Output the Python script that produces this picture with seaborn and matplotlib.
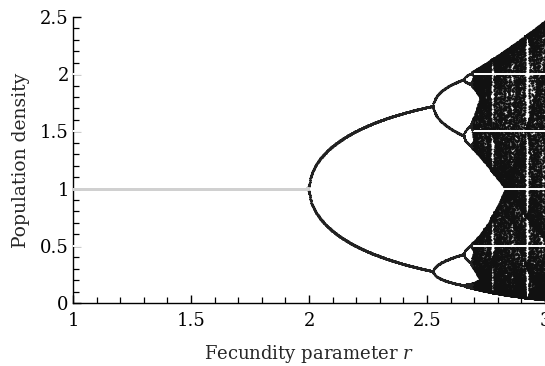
import numpy as np
import pandas as pd
import matplotlib
matplotlib.use("Agg")
import matplotlib.pyplot as plt
import seaborn as sns

# Ricker map  N[t+1] = N[t] * exp(r * (1 - N[t]))
r_range = [1.0, 3.0]
r_first_split = 2.0     # fixed point loses stability
r_chaos = 2.692         # end of the period-doubling cascade
n_r = 1300
n_transient = 600
n_keep = 130
x_ticks = [1, 1.5, 2, 2.5, 3]
x_tick_labels = ["1", "1.5", "2", "2.5", "3"]
y_ticks = [0, 0.5, 1, 1.5, 2, 2.5]
y_tick_labels = ["0", "0.5", "1", "1.5", "2", "2.5"]
grid_levels = [0.5, 1.0, 1.5, 2.0]

r_vals = np.linspace(r_range[0], r_range[1], n_r)
n = np.full(n_r, 0.5)
for _ in range(n_transient):
    n = n * np.exp(r_vals * (1.0 - n))
rows_r, rows_n = [], []
for _ in range(n_keep):
    n = n * np.exp(r_vals * (1.0 - n))
    rows_r.append(r_vals.copy())
    rows_n.append(n.copy())
df = pd.DataFrame({"r": np.concatenate(rows_r), "N": np.concatenate(rows_n)})
stable = df[df["r"] < r_first_split - 0.005]
periodic = df[(df["r"] >= r_first_split - 0.005) & (df["r"] < r_chaos)]
chaotic = df[df["r"] >= r_chaos]

sns.set_style("ticks")
plt.rcParams["font.family"] = ["DejaVu Serif"]
plt.rcParams["mathtext.fontset"] = "custom"
plt.rcParams["mathtext.it"] = "DejaVu Serif:italic"
plt.rcParams["mathtext.rm"] = "DejaVu Serif"

fig = plt.figure(figsize=(5.45, 3.66), dpi=100)
ax = fig.add_axes([0.134, 0.172, 0.866, 0.782])

sns.scatterplot(data=chaotic, x="r", y="N", s=2.2, color="#111111",
                linewidth=0, edgecolor=None, ax=ax, zorder=2, rasterized=True)
for lvl in grid_levels:
    ax.axhline(lvl, color="white", lw=1.4, zorder=3)
sns.scatterplot(data=periodic, x="r", y="N", s=1.3, color="#222222",
                linewidth=0, edgecolor=None, ax=ax, zorder=4)
sns.scatterplot(data=stable, x="r", y="N", s=1.8, color="#d0d0d0",
                linewidth=0, edgecolor=None, ax=ax, zorder=4)

ax.set_xlim(1, 3)
ax.set_ylim(0, 2.5)
ax.set_xticks(x_ticks)
ax.set_xticklabels(x_tick_labels)
ax.set_yticks(y_ticks)
ax.set_yticklabels(y_tick_labels)
ax.set_xticks(np.arange(1, 3.001, 0.1), minor=True)
ax.set_yticks(np.arange(0, 2.501, 0.1), minor=True)
ax.tick_params(which="major", direction="in", length=6, width=1, labelsize=13,
               color="black", labelcolor="black", pad=3)
ax.tick_params(axis="x", which="major", pad=6.5)
ax.tick_params(which="minor", direction="in", length=4.5, width=0.9, color="black")
for s in ["top", "right"]:
    ax.spines[s].set_visible(False)
for s in ["left", "bottom"]:
    ax.spines[s].set_color("black")
    ax.spines[s].set_linewidth(1.0)
ax.set_xlabel("Fecundity parameter $\\mathit{r}$", fontsize=13, labelpad=9)
ax.set_ylabel("Population density", fontsize=13.5, labelpad=7)

fig.savefig("out.png", dpi=100)
